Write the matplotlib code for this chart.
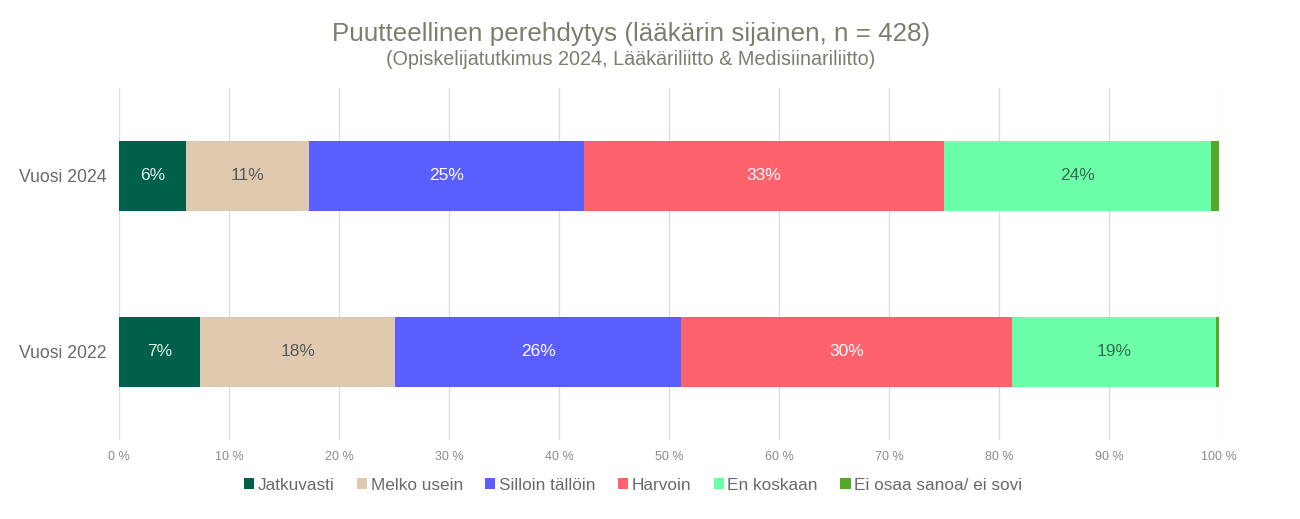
import numpy as np
import matplotlib.pyplot as plt

plt.rcParams['font.family'] = ['Liberation Sans', 'DejaVu Sans']

# Data (osuudet prosentteina)
years = ["Vuosi 2022", "Vuosi 2024"]
categories = ["Jatkuvasti", "Melko usein", "Silloin tällöin", "Harvoin", "En koskaan", "Ei osaa sanoa/ ei sovi"]
values_2022 = [7.4, 17.7, 26.0, 30.1, 18.5, 0.3]
values_2024 = [6.1, 11.2, 25.0, 32.7, 24.3, 0.7]
labels_2022 = ["7%", "18%", "26%", "30%", "19%", ""]
labels_2024 = ["6%", "11%", "25%", "33%", "24%", ""]

colors = ["#00604a", "#dfcab0", "#5a5efe", "#fe636d", "#6affa8", "#55a928"]
text_colors = ["#e0f0ea", "#5a5a5a", "#ffffff", "#ffffff", "#3a6a50", "#ffffff"]

data = np.array([values_2022, values_2024])
labels = [labels_2022, labels_2024]

fig = plt.figure(figsize=(13, 5.19), dpi=100)
ax = fig.add_axes([119/1300, 1 - 440/519, 1100/1300, 352/519])

y = np.arange(len(years))
left = np.zeros(len(years))
for i, cat in enumerate(categories):
    ax.barh(y, data[:, i], left=left, height=0.4, color=colors[i], label=cat, zorder=3)
    for j in range(len(years)):
        if labels[j][i]:
            ax.text(left[j] + data[j, i] / 2, y[j], labels[j][i], ha="center", va="center",
                    fontsize=12.5, color=text_colors[i], zorder=4)
    left += data[:, i]

ax.set_xlim(0, 100)
ax.set_ylim(-0.5, 1.5)
ax.set_xticks(np.arange(0, 101, 10))
ax.set_xticklabels([f"{v} %" for v in range(0, 101, 10)], fontsize=9, color="#8a8a8a")
ax.tick_params(length=0, axis="x", pad=8)
ax.set_yticks(y)
ax.set_yticklabels(years, fontsize=12.7, color="#6a6a6a")
ax.tick_params(length=0, axis="y", pad=9)
ax.grid(axis="x", color="#dddddd", linewidth=1, zorder=0)
for s in ax.spines.values():
    s.set_visible(False)

fig.text(631/1300, 1 - 34/519, "Puutteellinen perehdytys (lääkärin sijainen, n = 428)",
         ha="center", va="center", fontsize=18.7, color="#7a7f6e")
fig.text(631/1300, 1 - 60/519, "(Opiskelijatutkimus 2024, Lääkäriliitto & Medisiinariliitto)",
         ha="center", va="center", fontsize=14.2, color="#7a7f6e")

fig.legend(loc="center", bbox_to_anchor=(633/1300, 1 - 485/519), ncol=6, frameon=False,
           fontsize=12.4, labelcolor="#6a6a6a", handlelength=0.6, handleheight=0.6,
           handletextpad=0.2, columnspacing=1.3)

plt.savefig("out.png", dpi=100)
